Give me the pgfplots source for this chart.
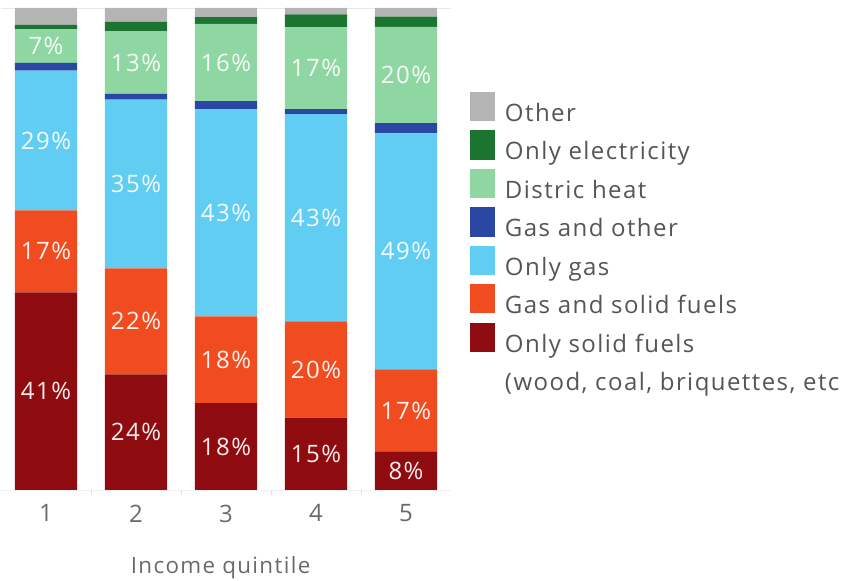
\documentclass[border=0pt]{standalone}
\usepackage{pgfplots}
\usepackage{pgfplotstable}
\pgfplotsset{compat=1.18}
\usepackage{fontspec}
\setmainfont[LetterSpace=6]{Open Sans}

\definecolor{cOther}{HTML}{B4B4B4}
\definecolor{cElec}{HTML}{1B7430}
\definecolor{cDist}{HTML}{8ED6A2}
\definecolor{cGasOther}{HTML}{2A47A3}
\definecolor{cGas}{HTML}{62CDF3}
\definecolor{cGasSolid}{HTML}{F14C1F}
\definecolor{cSolid}{HTML}{8E0C10}
\definecolor{legtext}{HTML}{555555}
\definecolor{ticktext}{HTML}{6A6A6A}

\newcommand\bigfont{\fontsize{18pt}{21pt}\selectfont}

% shares (%) by income quintile
\pgfplotstableread{
q solid gassolid gas gasother dist elec other
1 41 17 29 1.6 7  0.9 3.5
2 24 22 35 1.2 13 1.9 2.9
3 18 18 43 1.7 16 1.4 1.9
4 15 20 43 1.0 17 2.7 1.3
5 8  17 49 2.1 20 2.1 1.8
}\heat

% labels sit in the middle of their segment
\pgfplotsset{
  lbl/.style={
    point meta=explicit symbolic,
    nodes near coords={\pgfplotspointmeta\%},
    every node near coord/.append style={anchor=center,
      font=\bigfont, text=white, text opacity=0.92, inner sep=0pt},
  },
}

\begin{document}
\begin{tikzpicture}
\begin{axis}[
  name=ax, at={(0,0)}, anchor=south west,
  scale only axis, width=337.5pt, height=361.5pt,
  xmin=0.5, xmax=5.5, ymin=0, ymax=100, enlargelimits=false,
  ybar stacked, bar width=0.689,
  hide y axis,
  x axis line style={draw=gray!18},
  xtick={1,2,3,4,5}, xtick pos=bottom, major tick length=0pt,
  minor xtick={1.5,2.5,3.5,4.5}, minor tick length=4pt, tick align=outside,
  minor tick style={gray!25},
  /pgf/number format/assume math mode=true,
  xticklabel style={font=\bigfont, text=ticktext, yshift=-7.5pt},
  xlabel={Income quintile},
  xlabel style={at={(axis description cs:0.488,0)}, anchor=base, yshift=-63pt,
    font=\fontsize{16.8pt}{20pt}\selectfont, text=ticktext},
  legend image code/.code={
    \path (0pt,-6pt) rectangle (18.75pt,16pt);
    \fill[#1, draw=none] (0pt,-3pt) rectangle (18.75pt,15.75pt);},
  reverse legend, legend cell align=left,
  legend style={at={(1.0422,0.826)}, anchor=north west, draw=none, fill=none,
    inner sep=0pt, outer sep=0pt, row sep=5.25pt,
    nodes={inner sep=0pt, font=\bigfont, text=legtext},
    /tikz/every odd column/.append style={column sep=7.5pt}},
]
\addlegendimage{fill=white, draw=none}
\addlegendentry{(wood, coal, briquettes, etc}

\addplot[fill=cSolid, draw=none, lbl] table[x=q, y=solid, meta=solid] {\heat};
\addlegendentry{Only solid fuels}
\addplot[fill=cGasSolid, draw=none, lbl] table[x=q, y=gassolid, meta=gassolid] {\heat};
\addlegendentry{Gas and solid fuels}
\addplot[fill=cGas, draw=none, lbl] table[x=q, y=gas, meta=gas] {\heat};
\addlegendentry{Only gas}
\addplot[fill=cGasOther, draw=none] table[x=q, y=gasother] {\heat};
\addlegendentry{Gas and other}
\addplot[fill=cDist, draw=none, lbl] table[x=q, y=dist, meta=dist] {\heat};
\addlegendentry{Distric heat}
\addplot[fill=cElec, draw=none] table[x=q, y=elec] {\heat};
\addlegendentry{Only electricity}
\addplot[fill=cOther, draw=none] table[x=q, y=other] {\heat};
\addlegendentry{Other}
\end{axis}
\pgfresetboundingbox
\path[use as bounding box] (ax.south west) ++(-0.75pt,-68.25pt) rectangle ++(645pt,435.75pt);
\end{tikzpicture}
\end{document}
